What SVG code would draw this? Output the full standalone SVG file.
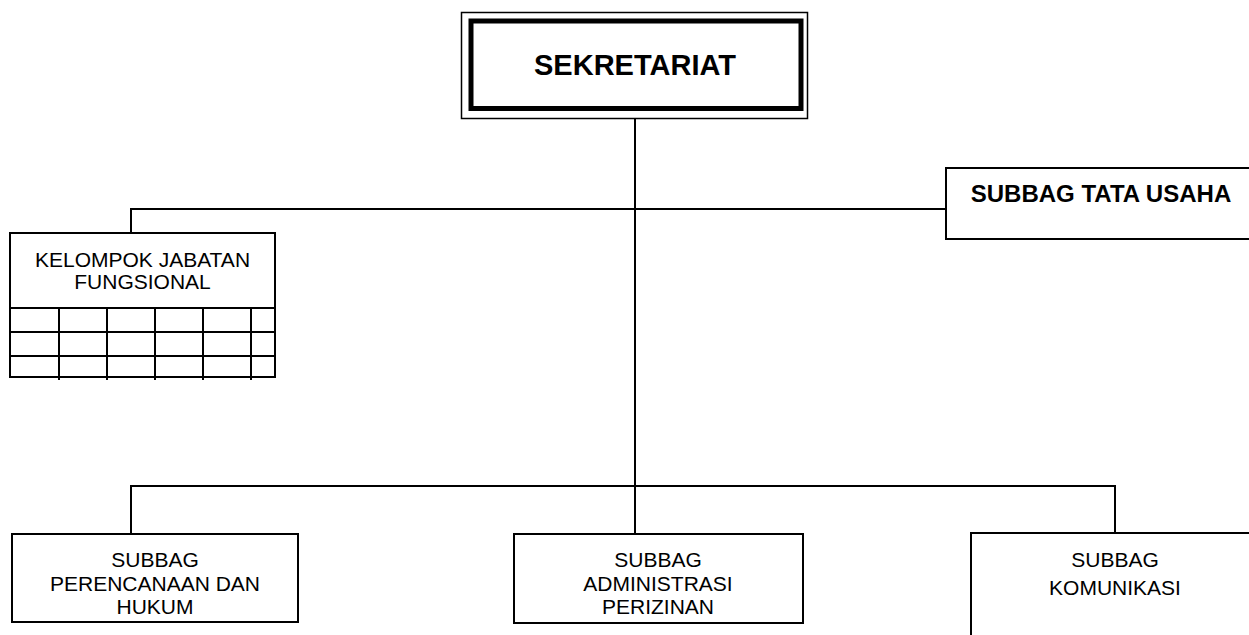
<svg xmlns="http://www.w3.org/2000/svg" width="1249" height="635" viewBox="0 0 1249 635">
<style>
.box{fill:#fff;stroke:#000;stroke-width:2}
.ln{fill:none;stroke:#000;stroke-width:2}
.t{font-family:"Liberation Sans",Arial,sans-serif;font-size:21px;fill:#000;text-anchor:middle}
.b{font-family:"Liberation Sans",Arial,sans-serif;font-weight:bold;fill:#000;text-anchor:middle}
</style>
<rect width="1249" height="635" fill="#fff"/>
<g id="connectors">
<line class="ln" x1="635" y1="119" x2="635" y2="534"/>
<polyline class="ln" points="131,233 131,209 946,209"/>
<polyline class="ln" points="131,534 131,486 1115,486 1115,533"/>
</g>
<g id="sekretariat">
<rect x="461.5" y="12.5" width="346" height="106" fill="#fff" stroke="#000" stroke-width="1.5"/>
<rect x="471" y="21" width="330" height="87.5" fill="#fff" stroke="#000" stroke-width="5"/>
<text class="b" x="635" y="75" font-size="29">SEKRETARIAT</text>
</g>
<g id="tata-usaha">
<path class="ln" d="M1250,168 H946 V239 H1250" fill="#fff"/>
<text class="b" x="1101" y="202" font-size="24">SUBBAG TATA USAHA</text>
</g>
<g id="kelompok">
<rect class="box" x="10" y="233" width="265" height="144"/>
<text class="t" x="142.5" y="267">KELOMPOK JABATAN</text>
<text class="t" x="142.5" y="289">FUNGSIONAL</text>
<path class="ln" d="M10,308 H275 M10,332 H275 M10,356 H275 M59,308 V380 M107,308 V380 M155,308 V380 M203,308 V380 M251,308 V380"/>
</g>
<g id="perencanaan">
<rect class="box" x="12" y="534" width="286" height="88"/>
<text class="t" x="155" y="567">SUBBAG</text>
<text class="t" x="155" y="591">PERENCANAAN DAN</text>
<text class="t" x="155" y="614">HUKUM</text>
</g>
<g id="administrasi">
<rect class="box" x="514" y="534" width="289" height="89"/>
<text class="t" x="658" y="567">SUBBAG</text>
<text class="t" x="658" y="591">ADMINISTRASI</text>
<text class="t" x="658" y="614">PERIZINAN</text>
</g>
<g id="komunikasi">
<path class="ln" d="M1250,533 H971 V640" fill="#fff"/>
<text class="t" x="1115" y="567">SUBBAG</text>
<text class="t" x="1115" y="595">KOMUNIKASI</text>
</g>
</svg>
